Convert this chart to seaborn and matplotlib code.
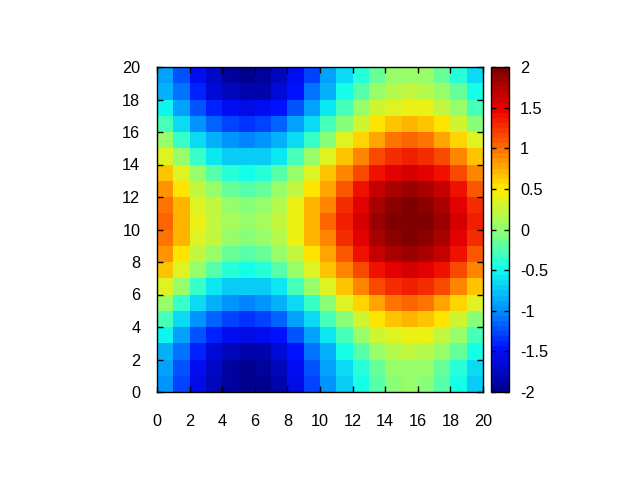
import numpy as np
import pandas as pd
import seaborn as sns
import matplotlib
matplotlib.use('Agg')
import matplotlib.pyplot as plt
from matplotlib.colors import LinearSegmentedColormap

# values, one list per row of cells, y = 0 first
row_00 = [-.98, -1.30, -1.57, -1.80, -1.93, -2.00, -1.95, -1.82, -1.58, -1.30, -.98, -.70, -.47, -.20, -.03, .02, -.01, -.22, -.47, -.70]
row_01 = [-.93, -1.25, -1.55, -1.75, -1.90, -1.96, -1.92, -1.78, -1.55, -1.25, -.93, -.67, -.42, -.16, .02, .06, .02, -.16, -.42, -.67]
row_02 = [-.83, -1.10, -1.43, -1.65, -1.80, -1.85, -1.82, -1.68, -1.45, -1.10, -.83, -.50, -.22, .02, .16, .21, .16, .04, -.17, -.50]
row_03 = [-.55, -.90, -1.20, -1.43, -1.55, -1.58, -1.55, -1.45, -1.20, -.90, -.58, -.26, .04, .27, .36, .42, .39, .21, .04, -.26]
row_04 = [-.30, -.65, -.95, -1.18, -1.30, -1.35, -1.30, -1.15, -.93, -.63, -.30, -.02, .30, .53, .65, .72, .65, .53, .30, -.02]
row_05 = [.03, -.35, -.63, -.85, -1.00, -1.03, -1.00, -.85, -.63, -.32, -.02, .33, .60, .78, .96, 1.02, .96, .80, .60, .33]
row_06 = [.33, .02, -.32, -.60, -.70, -.75, -.70, -.57, -.30, .03, .33, .63, .92, 1.13, 1.28, 1.33, 1.28, 1.13, .93, .65]
row_07 = [.63, .35, .03, -.20, -.40, -.47, -.40, -.20, .05, .35, .63, .93, 1.17, 1.38, 1.52, 1.58, 1.52, 1.38, 1.17, .92]
row_08 = [.82, .53, .23, .03, -.13, -.23, -.15, .00, .23, .53, .80, 1.10, 1.42, 1.63, 1.77, 1.83, 1.80, 1.63, 1.40, 1.10]
row_09 = [.97, .70, .37, .20, .03, -.02, .03, .17, .38, .70, .93, 1.27, 1.53, 1.80, 1.93, 1.98, 1.93, 1.77, 1.53, 1.27]
row_10 = [1.05, .73, .42, .23, .07, .03, .07, .23, .42, .73, 1.00, 1.33, 1.59, 1.86, 1.97, 2.00, 2.00, 1.83, 1.59, 1.32]
row_11 = [.97, .70, .37, .20, .03, -.02, .03, .17, .38, .70, .93, 1.27, 1.53, 1.80, 1.93, 1.98, 1.93, 1.77, 1.53, 1.27]
row_12 = [.82, .53, .23, .03, -.13, -.23, -.15, .00, .23, .53, .80, 1.10, 1.42, 1.63, 1.77, 1.83, 1.80, 1.63, 1.40, 1.10]
row_13 = [.63, .35, .03, -.20, -.40, -.47, -.40, -.20, .05, .35, .63, .93, 1.17, 1.38, 1.52, 1.58, 1.52, 1.38, 1.17, .92]
row_14 = [.33, .02, -.32, -.60, -.70, -.75, -.70, -.57, -.30, .03, .33, .63, .92, 1.13, 1.28, 1.33, 1.28, 1.13, .93, .65]
row_15 = [.03, -.35, -.63, -.85, -1.00, -1.03, -1.00, -.85, -.63, -.32, -.02, .33, .60, .78, .96, 1.02, .96, .80, .60, .33]
row_16 = [-.30, -.65, -.95, -1.18, -1.30, -1.35, -1.30, -1.15, -.93, -.63, -.30, -.02, .30, .53, .65, .72, .65, .53, .30, -.02]
row_17 = [-.55, -.90, -1.20, -1.43, -1.55, -1.58, -1.55, -1.45, -1.20, -.90, -.58, -.26, .04, .27, .36, .42, .39, .21, .04, -.26]
row_18 = [-.83, -1.10, -1.43, -1.65, -1.80, -1.85, -1.82, -1.68, -1.45, -1.10, -.83, -.50, -.22, .02, .16, .21, .16, .04, -.17, -.50]
row_19 = [-.93, -1.25, -1.56, -1.75, -1.90, -1.97, -1.93, -1.80, -1.56, -1.27, -.93, -.67, -.42, -.16, .02, .06, .02, -.16, -.42, -.67]

x_ticks = [0, 2, 4, 6, 8, 10, 12, 14, 16, 18, 20]
y_ticks = [0, 2, 4, 6, 8, 10, 12, 14, 16, 18, 20]
cbar_ticks = [-2, -1.5, -1, -0.5, 0, 0.5, 1, 1.5, 2]
palette_colors = ['#000090', '#000fff', '#0090ff', '#0fffee', '#90ff70', '#ffee00', '#ff7000', '#ee0000', '#7f0000']

plt.rcParams['font.family'] = ['Liberation Sans', 'DejaVu Sans']
plt.rcParams['font.size'] = 11.7
plt.rcParams['axes.unicode_minus'] = False

palette = LinearSegmentedColormap.from_list('gp_jet', palette_colors, N=64)

df = pd.DataFrame([row_00, row_01, row_02, row_03, row_04, row_05, row_06, row_07, row_08, row_09,
                   row_10, row_11, row_12, row_13, row_14, row_15, row_16, row_17, row_18, row_19])

fig = plt.figure(figsize=(6.4, 4.8), dpi=100)
ax = fig.add_axes([157 / 640, 88 / 480, 326 / 640, 325 / 480])
cax = fig.add_axes([491 / 640, 88 / 480, 18 / 640, 325 / 480])

sns.heatmap(df, ax=ax, cbar_ax=cax, cmap=palette, vmin=-2, vmax=2, xticklabels=False, yticklabels=False,
            cbar_kws={'ticks': cbar_ticks, 'format': '%g'})

ax.set_xlim(0, 20)
ax.set_ylim(0, 20)
ax.set_xticks(x_ticks)
ax.set_xticklabels(x_ticks)
ax.set_yticks(y_ticks)
ax.set_yticklabels(y_ticks, rotation=0)
ax.set_xlabel('')
ax.set_ylabel('')
ax.tick_params(direction='in', top=True, right=True, length=4.5, width=1, color='black', labelcolor='black')
ax.tick_params(axis='x', pad=16)
ax.tick_params(axis='y', pad=12)
for s in ax.spines.values():
    s.set_visible(True)
    s.set_linewidth(1)
    s.set_color('black')

cax.tick_params(direction='in', left=True, right=True, length=3.5, width=1, color='black', pad=8)
cbar = ax.collections[0].colorbar
cbar.outline.set_visible(True)
cbar.outline.set_linewidth(1)
cbar.outline.set_edgecolor('black')

fig.savefig('out.png', dpi=100)
